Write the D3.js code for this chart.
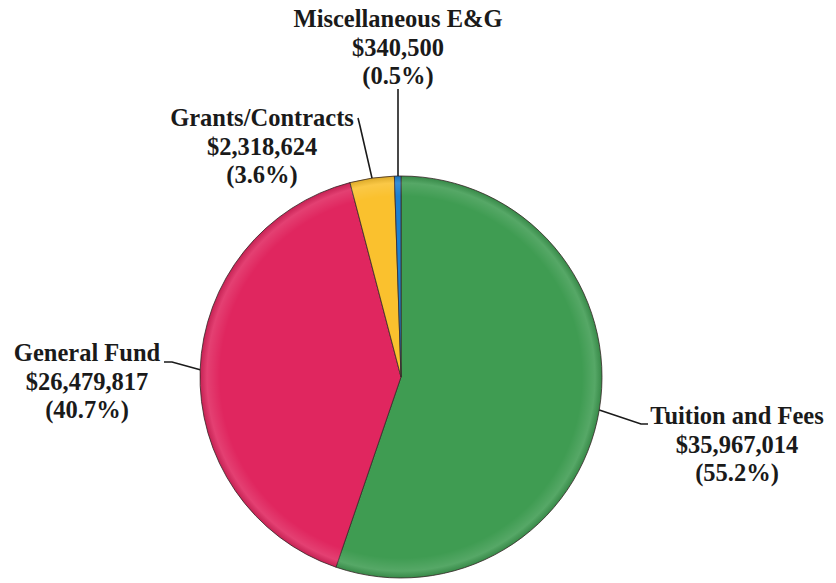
<!DOCTYPE html>
<html>
<head>
<meta charset="utf-8">
<title>Revenue Sources</title>
<script src="https://d3js.org/d3.v7.min.js"></script>
<style>
  html, body { margin: 0; padding: 0; background: #fff; }
  #chart { width: 836px; height: 583px; }
  .lbl { font-family: "Liberation Serif", "Times New Roman", serif; font-weight: bold; font-size: 24.5px; fill: #1a1a1a; }
</style>
</head>
<body>
<div id="chart"></div>
<script>
// data
var categories = ['Tuition and Fees', 'General Fund', 'Grants/Contracts', 'Miscellaneous E&G'];
var amounts = [35967014, 26479817, 2318624, 340500];
var percents = ['55.2%', '40.7%', '3.6%', '0.5%'];
var colors = ['#3f9c52', '#e0265f', '#fac12e', '#1d80d2'];

// label placement (layout only): text centre x, first baseline y, elbow of leader line
var labelLayout = [
  { x: 737, y: 424, elbow: [641, 424], end: [648, 424] },
  { x: 87, y: 361, elbow: [172, 362], end: [164, 362] },
  { x: 262, y: 126, elbow: [360, 126], end: [358, 118] },
  { x: 398, y: 27, elbow: [398, 89], end: [398, 89] }
];

var width = 836, height = 583;
var cx = 401, cy = 377, r = 201;

var svg = d3.select('#chart').append('svg')
  .attr('width', width)
  .attr('height', height);

// soft rim shading, a hint of the bevel in the original
var defs = svg.append('defs');
var shade = defs.append('radialGradient')
  .attr('id', 'shade')
  .attr('gradientUnits', 'userSpaceOnUse')
  .attr('cx', 0).attr('cy', 0).attr('r', r);
shade.append('stop').attr('offset', '0.9').attr('stop-color', '#fff').attr('stop-opacity', 0);
shade.append('stop').attr('offset', '0.965').attr('stop-color', '#fff').attr('stop-opacity', 0.12);
shade.append('stop').attr('offset', '1').attr('stop-color', '#000').attr('stop-opacity', 0.12);

var pie = d3.pie().sort(null).value(function (d) { return d; });
var arcs = pie(amounts);
var arc = d3.arc().innerRadius(0).outerRadius(r);

var g = svg.append('g').attr('transform', 'translate(' + cx + ',' + cy + ')');

g.selectAll('path.slice')
  .data(arcs)
  .enter().append('path')
    .attr('class', 'slice')
    .attr('d', arc)
    .attr('fill', function (d, i) { return colors[i]; })
    .attr('stroke', '#3a2a2a')
    .attr('stroke-width', 0.8);

g.append('circle')
  .attr('r', r)
  .attr('fill', 'url(#shade)')
  .attr('pointer-events', 'none');

// leader lines from the mid-angle of each slice on the rim
var fmt = d3.format('$,');
arcs.forEach(function (d, i) {
  var L = labelLayout[i];
  var a = (d.startAngle + d.endAngle) / 2;
  if (i === 3) a = d.endAngle - 0.012;
  var px = cx + r * Math.sin(a), py = cy - r * Math.cos(a);
  if (i === 3) px = L.elbow[0];
  svg.append('polyline')
    .attr('points', [[px, py], L.elbow, L.end].map(function (p) { return p.join(','); }).join(' '))
    .attr('fill', 'none')
    .attr('stroke', '#1a1a1a')
    .attr('stroke-width', 1.6);

  var t = svg.append('text')
    .attr('class', 'lbl')
    .attr('text-anchor', 'middle');
  [categories[i], fmt(amounts[i]), '(' + percents[i] + ')'].forEach(function (s, k) {
    t.append('tspan').attr('x', L.x).attr('y', L.y + k * 28.5).text(s);
  });
});
</script>
</body>
</html>
